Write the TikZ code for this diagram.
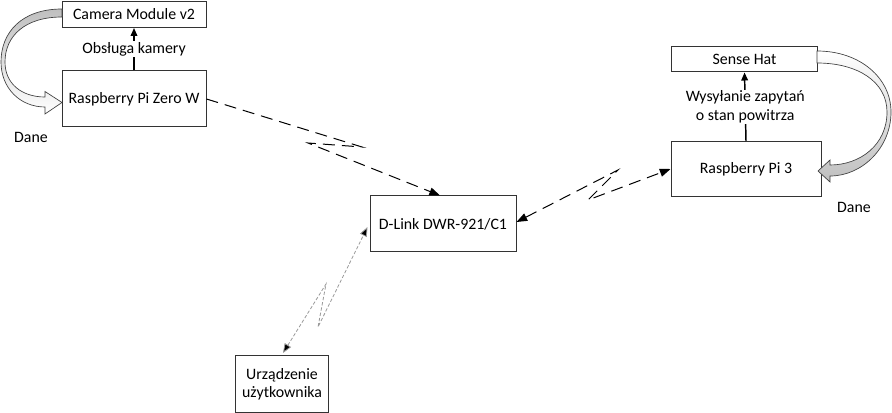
\documentclass[tikz,border=0pt]{standalone}
\usepackage{fontspec}
\setmainfont{Carlito}
\usetikzlibrary{arrows.meta,calc}
\begin{document}
\begin{tikzpicture}[x=0.75pt,y=-0.75pt,
  txt/.style={font=\fontsize{11.9}{13.6}\selectfont},
  box/.style={txt,draw=black!80,line width=0.75pt,fill=white,inner sep=0pt,align=center},
  lbl/.style={txt,fill=white,inner sep=1pt,align=center},
  bigtip/.tip={Triangle[length=8pt,width=6pt]},
  smalltip/.tip={Triangle[length=6pt,width=5pt]},
  usertip/.tip={Triangle[length=7pt,width=5.5pt,fill=black]},
  radio/.style={black,line width=0.75pt,dash pattern=on 9pt off 5.25pt},
  userlink/.style={black!40,line width=0.6pt,dash pattern=on 2.5pt off 1.5pt},
  up/.style={black,line width=1.1pt,-{smalltip}},
  blockarrow/.style={draw=black!75,line width=0.5pt}
]
\useasboundingbox (0,0) rectangle (892,413);

% nodes
\node[box,minimum width=108pt,minimum height=19.5pt] (cam) at (134,14.5) {Camera Module v2};
\node[box,minimum width=108pt,minimum height=42pt] (rpzw) at (134,99) {Raspberry Pi Zero W};
\node[box,minimum width=109.5pt,minimum height=42pt] (dlink) at (443,224) {D-Link DWR-921/C1};
\node[box,minimum width=109.5pt,minimum height=18.75pt] (sense) at (744.5,59.5) {Sense Hat};
\node[box,minimum width=112.5pt,minimum height=41.25pt] (rp3) at (746,169) {Raspberry Pi 3};
\node[box,minimum width=69.75pt,minimum height=42.75pt] (urz) at (282,384) {Urządzenie\\użytkownika};

\node[txt] (dane1) at (31,137) {Dane};
\node[txt] (dane2) at (854,207) {Dane};

% vertical arrows with labels
\draw[up] (rpzw.north) -- (cam.south) node[lbl,pos=0.5] (l1) {Obsługa kamery};
\draw[up] (rp3.north) -- (sense.south) node[lbl,pos=0.5] (l2) {Wysyłanie zapytań\\o stan powitrza};

% curved block arrows
\shade[blockarrow,top color=black!25,bottom color=white]
  (62,9) .. controls (22,9) and (1,32) .. (1,62)
  .. controls (1,88) and (20,107) .. (45,107) -- (45,114) -- (62,102.5) -- (45,91.5) -- (45,97)
  .. controls (22,97) and (5,84) .. (5,62)
  .. controls (5,36) and (25,17) .. (62,17) -- cycle;
\shade[blockarrow,top color=white,bottom color=black!25]
  (817,51) .. controls (860,51) and (891,78) .. (891,112)
  .. controls (891,148) and (862,176) .. (830,176) -- (830,182) -- (818,171) -- (830,160) -- (830,165)
  .. controls (860,165) and (887,145) .. (887,112)
  .. controls (887,82) and (858,63) .. (817,63) -- cycle;

% radio links
\coordinate (a1) at (362,147);
\coordinate (a2) at (308,143);
\draw[radio,-{bigtip}] (rpzw.east) -- (a1) -- (a2) -- ($(dlink.north)+(-3,0)$);

\coordinate (b1) at (618,170);
\coordinate (b2) at (588,200);
\draw[radio,{bigtip}-{bigtip}] ($(dlink.east)+(0,-2)$) -- (b1) -- (b2) -- (rp3.west);

\coordinate (c1) at (326,284);
\coordinate (c2) at (318,327);
\draw[userlink,{usertip}-{usertip}]
  ($(urz.north)+(1,-2)$) -- (c1) -- (c2) -- ($(dlink.west)+(-2,3)$);
\end{tikzpicture}
\end{document}
